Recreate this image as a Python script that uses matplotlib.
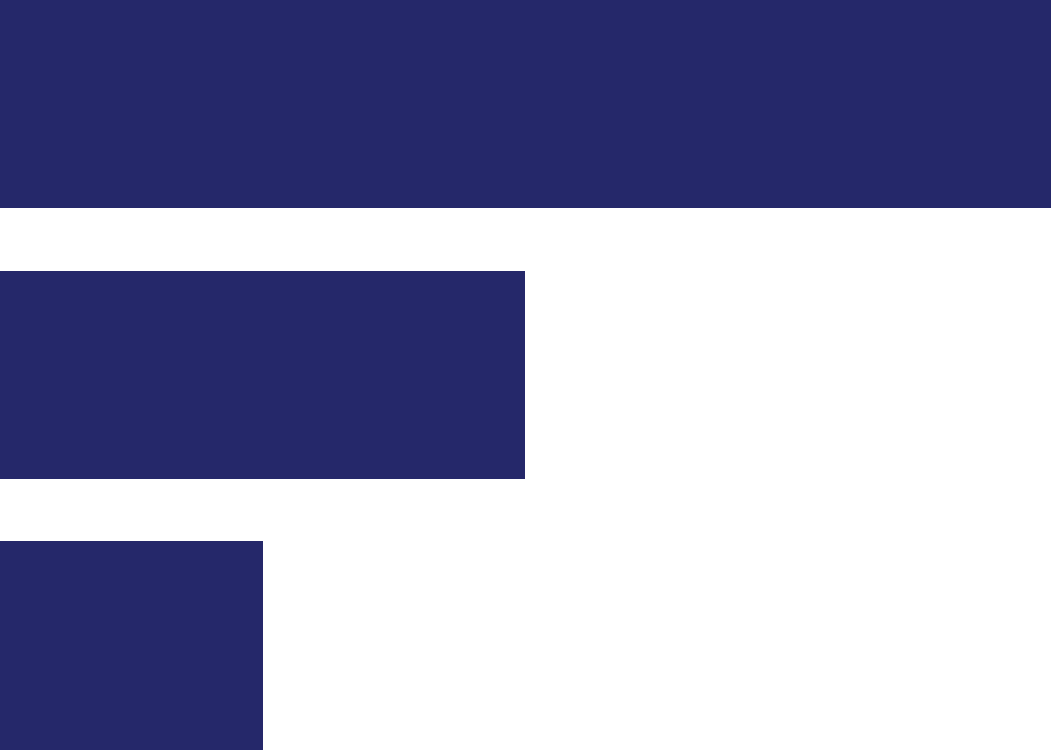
import matplotlib
matplotlib.use('Agg')
import matplotlib.pyplot as plt

categories = ['A', 'B', 'C']
values = [100, 50, 25]

bar_color = '#25286A'
bar_height = 0.77

fig = plt.figure(figsize=(10.52, 7.51), dpi=100)
ax = fig.add_axes([0, 0, 1, 1])
ax.barh(range(len(categories)), values, height=bar_height, color=bar_color)

# bars fill the whole canvas, no axes or labels
ax.set_xlim(0, 100.1)
ax.set_ylim(2 + bar_height / 2 + 0.004, -bar_height / 2)
ax.axis('off')

fig.savefig('out.png', dpi=100)
